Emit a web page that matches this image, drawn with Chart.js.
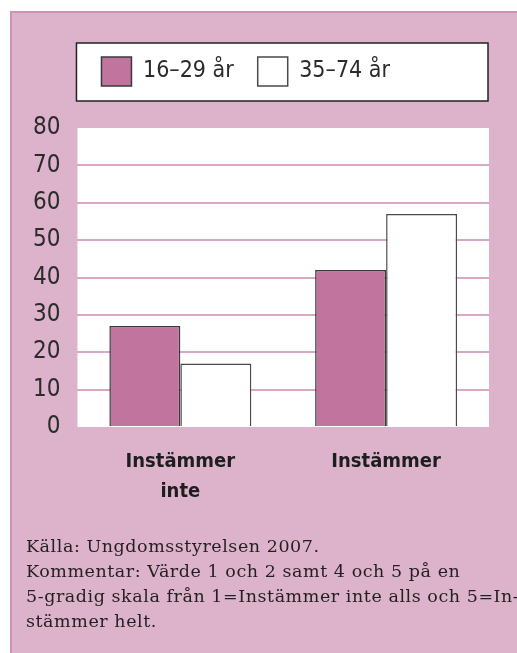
<!DOCTYPE html>
<html>
<head>
<meta charset="utf-8">
<script src="https://cdn.jsdelivr.net/npm/chart.js@4"></script>
<style>
  html, body { margin: 0; padding: 0; background: #ffffff; width: 517px; height: 653px; overflow: hidden; }
  #panel { position: absolute; left: 10px; top: 11px; width: 507px; height: 642px; background: #dcb3ca;
           border-left: 2px solid #cf94b4; border-top: 2px solid #cf94b4; box-sizing: border-box; }
  #wrap { position: absolute; left: 0; top: 0; width: 517px; height: 540px; }
  #note { position: absolute; left: 26px; top: 534px; width: 600px; white-space: nowrap;
          font-family: "DejaVu Serif", "Liberation Serif", serif; font-size: 17.5px; line-height: 25px;
          letter-spacing: 0.55px; color: #231f20; }
</style>
</head>
<body>
<div id="panel"></div>
<div id="wrap"><canvas id="c" width="517" height="540"></canvas></div>
<div id="note">
  <div>Källa: Ungdomsstyrelsen 2007.</div>
  <div>Kommentar: Värde 1 och 2 samt 4 och 5 på en</div>
  <div>5-gradig skala från 1=Instämmer inte alls och 5=In-</div>
  <div>stämmer helt.</div>
</div>
<script>
const categories = [["Instämmer", "inte"], "Instämmer"];
const seriesNames = ["16–29 år", "35–74 år"];
const young = [27, 42];
const old = [17, 57];
const yTicks = [0, 10, 20, 30, 40, 50, 60, 70, 80];

const narrow = '"DejaVu Sans Condensed", "Liberation Sans Narrow", "Arial Narrow", sans-serif';

const framePlugin = {
  id: 'frames',
  beforeDraw(chart) {
    const ctx = chart.ctx;
    const a = chart.chartArea;
    const lg = chart.legend;
    ctx.save();
    ctx.fillStyle = '#ffffff';
    ctx.fillRect(a.left, a.top, a.right - a.left, a.bottom - a.top);
    if (lg) {
      const x = a.left - 1, y = lg.top + 10, w = a.right - a.left, h = 58;
      ctx.fillRect(x, y, w, h);
      ctx.strokeStyle = '#222222';
      ctx.lineWidth = 1.5;
      ctx.strokeRect(x, y, w, h);
    }
    ctx.restore();
  }
};

new Chart(document.getElementById('c'), {
  type: 'bar',
  data: {
    labels: categories,
    datasets: [
      { label: seriesNames[0], data: young, backgroundColor: '#c1749d', borderColor: '#3a3a3a', borderWidth: 1.5 },
      { label: seriesNames[1], data: old, backgroundColor: '#ffffff', borderColor: '#4a4a4a', borderWidth: 1.5 }
    ]
  },
  options: {
    responsive: false,
    animation: false,
    layout: { padding: { top: 33, left: 16, right: 28, bottom: 13 } },
    datasets: { bar: { barPercentage: 1, categoryPercentage: 0.69 } },
    plugins: {
      legend: {
        position: 'top',
        align: 'start',
        fullSize: false,
        labels: {
          boxWidth: 30, boxHeight: 29, padding: 24,
          color: '#2b2b2b',
          font: { family: narrow, size: 23 }
        }
      },
      subtitle: { display: true, text: '', weight: 500, fullSize: false, font: { size: 10 }, padding: { top: 20, bottom: 0 } },
      tooltip: { enabled: false }
    },
    scales: {
      x: {
        grid: { display: false, drawTicks: false },
        border: { display: false },
        ticks: { color: '#1e1e1e', padding: 20, font: { family: narrow, size: 20, weight: 'bold', lineHeight: 1.5 } }
      },
      y: {
        min: yTicks[0], max: yTicks[yTicks.length - 1],
        afterBuildTicks(scale) { scale.ticks = yTicks.map(v => ({ value: v })); },
        grid: {
          drawTicks: false,
          lineWidth: 2,
          color: (c) => (c.tick && (c.tick.value === 0 || c.tick.value === 80)) ? 'rgba(0,0,0,0)' : '#d9a8c4'
        },
        border: { display: false },
        ticks: { color: '#2b2b2b', padding: 17, font: { family: narrow, size: 24 } }
      }
    }
  },
  plugins: [framePlugin]
});
</script>
</body>
</html>
